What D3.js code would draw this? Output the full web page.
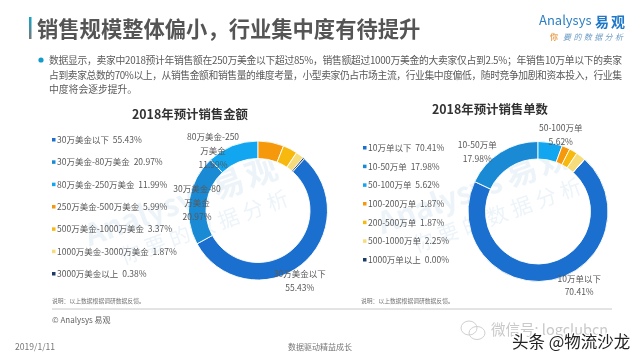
<!DOCTYPE html>
<html>
<head>
<meta charset="utf-8">
<script src="https://cdn.jsdelivr.net/npm/d3@7"></script>
<style>
  html, body { margin: 0; padding: 0; background: #fff; }
  svg { display: block; filter: blur(0.35px); }
  text { font-family: "Noto Sans CJK SC", "Noto Sans", sans-serif; }
</style>
</head>
<body>
<div id="chart"></div>
<script>
const amountCategories = ["30万美金以下", "30万美金-80万美金", "80万美金-250万美金", "250万美金-500万美金", "500万美金-1000万美金", "1000万美金-3000万美金", "3000万美金以上"];
const amountValues = [55.43, 20.97, 11.99, 5.99, 3.37, 1.87, 0.38];
const orderCategories = ["10万单以下", "10-50万单", "50-100万单", "100-200万单", "200-500万单", "500-1000万单", "1000万单以上"];
const orderValues = [70.41, 17.98, 5.62, 1.87, 1.87, 2.25, 0.00];
const sliceColors = ["#1b6fce", "#1a8ad4", "#12a6f0", "#f5980c", "#f8b90f", "#f7dc7c", "#1c3a63"];
const bodyLines = [
  "数据显示，卖家中2018预计年销售额在250万美金以下超过85%，销售额超过1000万美金的大卖家仅占到2.5%；年销售10万单以下的卖家",
  "占到卖家总数的70%以上，从销售金额和销售量的维度考量，小型卖家仍占市场主流，行业集中度偏低，随时竞争加剧和资本投入，行业集",
  "中度将会逐步提升。"
];

const svg = d3.select("#chart").append("svg").attr("width", 640).attr("height", 360);

const grad = svg.append("defs").append("linearGradient")
  .attr("id", "bar").attr("x1", 0).attr("y1", 0).attr("x2", 0).attr("y2", 1);
grad.append("stop").attr("offset", "0%").attr("stop-color", "#12a5c9");
grad.append("stop").attr("offset", "100%").attr("stop-color", "#777");

// watermarks sit under everything
function watermark(x, y) {
  const g = svg.append("g").attr("transform", `translate(${x},${y}) rotate(-20)`).attr("fill", "#edf4f9");
  g.append("text").attr("x", 0).attr("y", 0).attr("font-size", 32).attr("letter-spacing", 3).attr("font-weight", 700).text("易观");
  g.append("text").attr("x", -6).attr("y", 0).attr("text-anchor", "end").attr("font-size", 30).attr("font-weight", 700).text("Analysys");
  g.append("text").attr("x", -110).attr("y", 29).attr("font-size", 21).attr("letter-spacing", 5).text("你要的数据分析");
}
watermark(217, 200);
watermark(510, 188);

// header
svg.append("rect").attr("x", 29).attr("y", 17).attr("width", 2.5).attr("height", 22).attr("fill", "url(#bar)");
svg.append("text").attr("x", 37).attr("y", 37).attr("font-size", 21.3).attr("font-weight", 700)
  .attr("fill", "#555").text("销售规模整体偏小，行业集中度有待提升");

svg.append("text").attr("x", 539).attr("y", 25).attr("font-size", 13).attr("fill", "#2b7fc4").text("Analysys");
svg.append("text").attr("x", 595).attr("y", 27).attr("font-size", 14).attr("letter-spacing", 2).attr("font-weight", 700).attr("fill", "#1f78c8").text("易观");
svg.append("text").attr("x", 550).attr("y", 39.5).attr("font-size", 8).attr("font-weight", 700).attr("fill", "#e9a65c").text("你");
svg.append("text").attr("x", 563).attr("y", 39.5).attr("font-size", 8).attr("letter-spacing", 2.4).attr("font-style", "italic").attr("fill", "#6d9cc4")
  .text("要的数据分析");

// body paragraph
svg.append("circle").attr("cx", 41).attr("cy", 60).attr("r", 2.6).attr("fill", "#159bc8");
svg.selectAll(".body-line").data(bodyLines).join("text")
  .attr("class", "body-line")
  .attr("x", 49)
  .attr("y", (d, i) => 64 + i * 14.7)
  .attr("font-size", 9.8)
  .attr("fill", "#5a5a5a")
  .attr("textLength", (d, i) => i < 2 ? 573 : null)
  .text(d => d);

function donut(opts) {
  const total = d3.sum(opts.values);
  const offset = d3.sum(opts.values.slice(opts.afterTop)) / total * 2 * Math.PI;
  const pie = d3.pie().sort(null).startAngle(offset).endAngle(offset + 2 * Math.PI);
  const arc = d3.arc().innerRadius(opts.r - 17.5).outerRadius(opts.r);
  const arcs = pie(opts.values);

  const g = svg.append("g").attr("transform", `translate(${opts.cx},${opts.cy})`);
  g.selectAll("path").data(arcs).join("path")
    .attr("d", arc)
    .attr("fill", (d, i) => sliceColors[i])
    .attr("stroke", "#fff")
    .attr("stroke-width", 0.9);

  // labels on the three biggest slices, wrapped like the source
  opts.labels.forEach((lines, k) => {
    const c = arc.centroid(arcs[k]);
    const [dx, dy] = opts.labelOffsets[k];
    g.append("text")
      .attr("text-anchor", "middle")
      .attr("font-size", 8.5)
      .attr("fill", "#595959")
      .selectAll("tspan").data(lines).join("tspan")
      .attr("x", c[0] + dx)
      .attr("y", (d, i) => c[1] + dy + 3 + (i - (lines.length - 1) / 2) * opts.labelStep)
      .text(d => d);
  });

  svg.append("text").attr("x", opts.titleX).attr("y", opts.titleY)
    .attr("text-anchor", "middle").attr("font-size", 12.4).attr("font-weight", 700)
    .attr("fill", "#333").text(opts.title);

  // legend
  const legendY = d3.scalePoint().domain(opts.categories).range(opts.legendRange);
  const items = svg.append("g").selectAll("g").data(opts.categories).join("g")
    .attr("transform", d => `translate(${opts.legendX},${legendY(d)})`);
  items.append("rect").attr("x", -5).attr("y", -2).attr("width", 3.5).attr("height", 3.5)
    .attr("fill", (d, i) => sliceColors[i]);
  items.append("text").attr("x", 0).attr("y", 3).attr("font-size", 8.5).attr("fill", "#595959")
    .attr("xml:space", "preserve")
    .text((d, i) => `${d}  ${opts.values[i].toFixed(2)}%`);

  svg.append("text").attr("x", opts.noteX).attr("y", 303).attr("font-size", 5.8).attr("fill", "#777")
    .text("说明：以上数据根据调研数据反馈。");
}

donut({
  title: "2018年预计销售金额", titleX: 190, titleY: 118.5,
  categories: amountCategories, values: amountValues, afterTop: 3,
  cx: 258, cy: 210.5, r: 69.5,
  legendX: 57, legendRange: [140, 274], noteX: 52,
  labelStep: 13.8,
  labels: [["30万美金以下", "55.43%"], ["30万美金-80", "万美金", "20.97%"], ["80万美金-250", "万美金", "11.99%"]],
  labelOffsets: [[4, 23], [-1, 2], [-22.6, -3]]
});

donut({
  title: "2018年预计销售单数", titleX: 490, titleY: 113.5,
  categories: orderCategories, values: orderValues, afterTop: 2,
  cx: 538, cy: 211.5, r: 70,
  legendX: 368, legendRange: [148, 260], noteX: 361,
  labelStep: 13.8,
  labels: [["10万单以下", "70.41%"], ["10-50万单", "17.98%"], ["50-100万单", "5.62%"]],
  labelOffsets: [[29, 14], [-28, -8], [12, -16.5]]
});

// footer
svg.append("line").attr("x1", 52).attr("x2", 612).attr("y1", 309).attr("y2", 309).attr("stroke", "#c8c8c8");
svg.append("text").attr("x", 52).attr("y", 323).attr("font-size", 8).attr("fill", "#666").text("© Analysys 易观");
svg.append("text").attr("x", 15).attr("y", 350).attr("font-size", 8.6).attr("fill", "#777").text("2019/1/11");
svg.append("text").attr("x", 288).attr("y", 350).attr("font-size", 8).attr("fill", "#777").text("数据驱动精益成长");

// reposter stamps
svg.append("text").attr("x", 491).attr("y", 335).attr("font-size", 14.5).attr("fill", "#c9c9c9").text("微信号: logclubcn");
const wechat = svg.append("g").attr("fill", "none").attr("stroke", "#cfcfcf").attr("stroke-width", 1);
wechat.append("ellipse").attr("cx", 469).attr("cy", 328).attr("rx", 8).attr("ry", 7);
wechat.append("ellipse").attr("cx", 477).attr("cy", 333).attr("rx", 8).attr("ry", 6.5);
svg.append("text").attr("x", 512).attr("y", 348).attr("font-size", 16.5).attr("fill", "#222")
  .attr("stroke", "#fff").attr("stroke-width", 2.5).attr("paint-order", "stroke").text("头条 @物流沙龙");
</script>
</body>
</html>
